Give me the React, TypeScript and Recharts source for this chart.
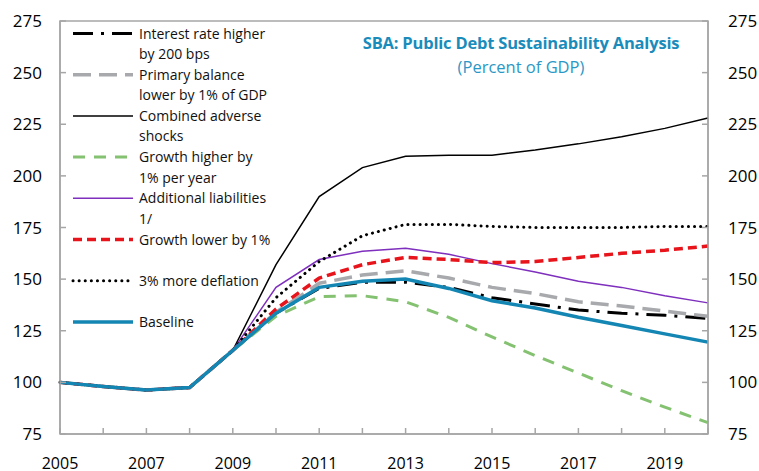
import React from "react";
import { LineChart, Line, XAxis, YAxis, Legend, ReferenceArea } from "recharts";

const years = [2005, 2006, 2007, 2008, 2009, 2010, 2011, 2012, 2013, 2014, 2015, 2016, 2017, 2018, 2019, 2020];
const xLabelYears = [2005, 2007, 2009, 2011, 2013, 2015, 2017, 2019];
const yTicks = [75, 100, 125, 150, 175, 200, 225, 250, 275];

const interestHigher = [100, 98, 96.3, 97.5, 115.5, 133.5, 145.5, 148.5, 148.5, 146, 141, 138, 135, 133.5, 132.5, 131];
const primaryLower = [100, 98, 96.3, 97.5, 115.5, 134, 148, 152, 154, 150.5, 146, 143, 139, 137, 134.5, 132];
const combinedShocks = [100, 98, 96.3, 97.5, 115.5, 157, 190, 204, 209.5, 210, 210, 212.5, 215.5, 219, 223, 228];
const growthHigher = [100, 98, 96.3, 97.5, 115.5, 132, 141.5, 142, 139, 131.5, 122, 113, 104.5, 96, 88, 80.5];
const additionalLiabilities = [100, 98, 96.3, 97.5, 115.5, 146, 159.5, 163.5, 165, 162, 157.5, 153.5, 149, 146, 142, 138.5];
const growthLower = [100, 98, 96.3, 97.5, 115.5, 135.5, 150.5, 157, 160.5, 159.5, 158, 158.5, 160.5, 162.5, 164, 166];
const moreDeflation = [100, 98, 96.3, 97.5, 115.5, 141, 158.5, 171, 176.5, 176.5, 175.5, 175, 175, 175, 175.5, 175.5];
const baseline = [100, 98, 96.3, 97.5, 115.5, 133.5, 146, 149, 150, 145.5, 139.5, 136, 131.5, 127.5, 123.5, 119.5];

const series = [
  { key: "interest", label: ["Interest rate higher", "by 200 bps"], values: interestHigher },
  { key: "primary", label: ["Primary balance", "lower by 1% of GDP"], values: primaryLower },
  { key: "combined", label: ["Combined adverse", "shocks"], values: combinedShocks },
  { key: "growthHigh", label: ["Growth higher by", "1% per year"], values: growthHigher },
  { key: "liabilities", label: ["Additional liabilities", "1/"], values: additionalLiabilities },
  { key: "growthLow", label: ["Growth lower by 1%"], values: growthLower },
  { key: "deflation", label: ["3% more deflation"], values: moreDeflation },
  { key: "baseline", label: ["Baseline"], values: baseline },
];

const styles: Record<string, { color: string; width: number; dash?: string; cap?: "round" | "butt" }> = {
  interest: { color: "#000000", width: 3, dash: "20 8 3 8" },
  primary: { color: "#a7a9ac", width: 3.5, dash: "18 8" },
  combined: { color: "#000000", width: 1.5 },
  growthHigh: { color: "#84c271", width: 3, dash: "12 9" },
  liabilities: { color: "#7e2fbd", width: 1.5 },
  growthLow: { color: "#e8141b", width: 3.5, dash: "9 5" },
  deflation: { color: "#000000", width: 3, dash: "0.1 6", cap: "round" },
  baseline: { color: "#1486b3", width: 3.5 },
};

const rows = years.map((year, i) => {
  const row: Record<string, number> = { year };
  series.forEach((s) => {
    row[s.key] = s.values[i];
  });
  return row;
});

const AXIS = "#a6a6a6";
const TICK_FONT = "'Open Sans', sans-serif";

function LeftTick(props: any) {
  const { x, y, payload } = props;
  return (
    <g>
      <line x1={x + 18} x2={x + 24} y1={y} y2={y} stroke={AXIS} strokeWidth={1.5} />
      <text x={x} y={y} dy="0.36em" textAnchor="end" fontSize={17} fontFamily={TICK_FONT} fill="#000">
        {payload.value}
      </text>
    </g>
  );
}

function RightTick(props: any) {
  const { x, y, payload } = props;
  return (
    <g>
      <line x1={x - 26} x2={x - 20} y1={y} y2={y} stroke={AXIS} strokeWidth={1.5} />
      <text x={x} y={y} dy="0.36em" textAnchor="start" fontSize={17} fontFamily={TICK_FONT} fill="#000">
        {payload.value}
      </text>
    </g>
  );
}

function BottomTick(props: any) {
  const { x, y, payload } = props;
  const showLabel = xLabelYears.includes(payload.value);
  return (
    <g>
      <line x1={x} x2={x} y1={y - 29} y2={y - 35} stroke={AXIS} strokeWidth={1.5} />
      {showLabel && (
        <text x={x} y={y} dy="0.36em" textAnchor="middle" fontSize={16} fontFamily={TICK_FONT} fill="#000">
          {payload.value}
        </text>
      )}
    </g>
  );
}

function LegendBox() {
  return (
    <svg width={340} height={340} style={{ display: "block" }}>
      {series.map((s, i) => {
        const st = styles[s.key];
        const yc = 33.5 + i * 41.2;
        return (
          <g key={s.key}>
            <line
              x1={73}
              x2={133}
              y1={yc}
              y2={yc}
              stroke={st.color}
              strokeWidth={st.width}
              strokeDasharray={st.dash}
              strokeLinecap={st.cap ?? "butt"}
            />
            <text x={139} y={yc} fontSize={14} fontFamily="'Open Sans', sans-serif" fill="#111">
              {s.label.map((t, j) => (
                <tspan key={j} x={139} y={yc + j * 20.5} dy="0.36em">
                  {t}
                </tspan>
              ))}
            </text>
          </g>
        );
      })}
    </svg>
  );
}

export default function App() {
  return (
    <div style={{ position: "absolute", left: 0, top: 0, width: 759, height: 471, background: "#fff" }}>
      <LineChart width={759} height={471} data={rows} margin={{ top: 21, right: 0, bottom: 0, left: 0 }}>
        <XAxis
          dataKey="year"
          type="number"
          domain={[2005, 2020]}
          ticks={years}
          interval={0}
          height={37}
          tickSize={0}
          tickMargin={29}
          tick={<BottomTick />}
          axisLine={{ stroke: AXIS, strokeWidth: 1.5 }}
          tickLine={false}
        />
        <YAxis
          yAxisId="left"
          domain={[75, 275]}
          ticks={yTicks}
          width={60}
          tickSize={0}
          tickMargin={18}
          tick={<LeftTick />}
          axisLine={{ stroke: AXIS, strokeWidth: 1.5 }}
          tickLine={false}
        />
        <YAxis
          yAxisId="right"
          orientation="right"
          domain={[75, 275]}
          ticks={yTicks}
          width={51}
          tickSize={0}
          tickMargin={20}
          tick={<RightTick />}
          axisLine={{ stroke: AXIS, strokeWidth: 1.5 }}
          tickLine={false}
        />
        <ReferenceArea
          yAxisId="left"
          x1={2005}
          x2={2020}
          y1={75}
          y2={275}
          fill="none"
          fillOpacity={0}
          stroke={AXIS}
          strokeWidth={1.5}
        />
        <Legend
          layout="vertical"
          align="center"
          verticalAlign="middle"
          content={() => <LegendBox />}
          wrapperStyle={{ left: 0, top: 0, width: 340, height: 340 }}
        />
        {series.map((s) => {
          const st = styles[s.key];
          return (
            <Line
              key={s.key}
              yAxisId={s.key === "baseline" ? "right" : "left"}
              type="linear"
              dataKey={s.key}
              stroke={st.color}
              strokeWidth={st.width}
              strokeDasharray={st.dash}
              strokeLinecap={st.cap ?? "butt"}
              dot={false}
              activeDot={false}
              isAnimationActive={false}
            />
          );
        })}
      </LineChart>
      <div
        style={{
          position: "absolute",
          left: 521,
          top: 31,
          transform: "translateX(-50%)",
          whiteSpace: "nowrap",
          textAlign: "center",
          fontFamily: "'Open Sans', sans-serif",
          color: "#1a8cbb",
        }}
      >
        <div style={{ fontSize: 16.5, fontWeight: 700, lineHeight: "24px", letterSpacing: "-0.2px" }}>
          SBA: Public Debt Sustainability Analysis
        </div>
        <div style={{ fontSize: 16.5, lineHeight: "24px", color: "#2a98c6" }}>(Percent of GDP)</div>
      </div>
    </div>
  );
}
